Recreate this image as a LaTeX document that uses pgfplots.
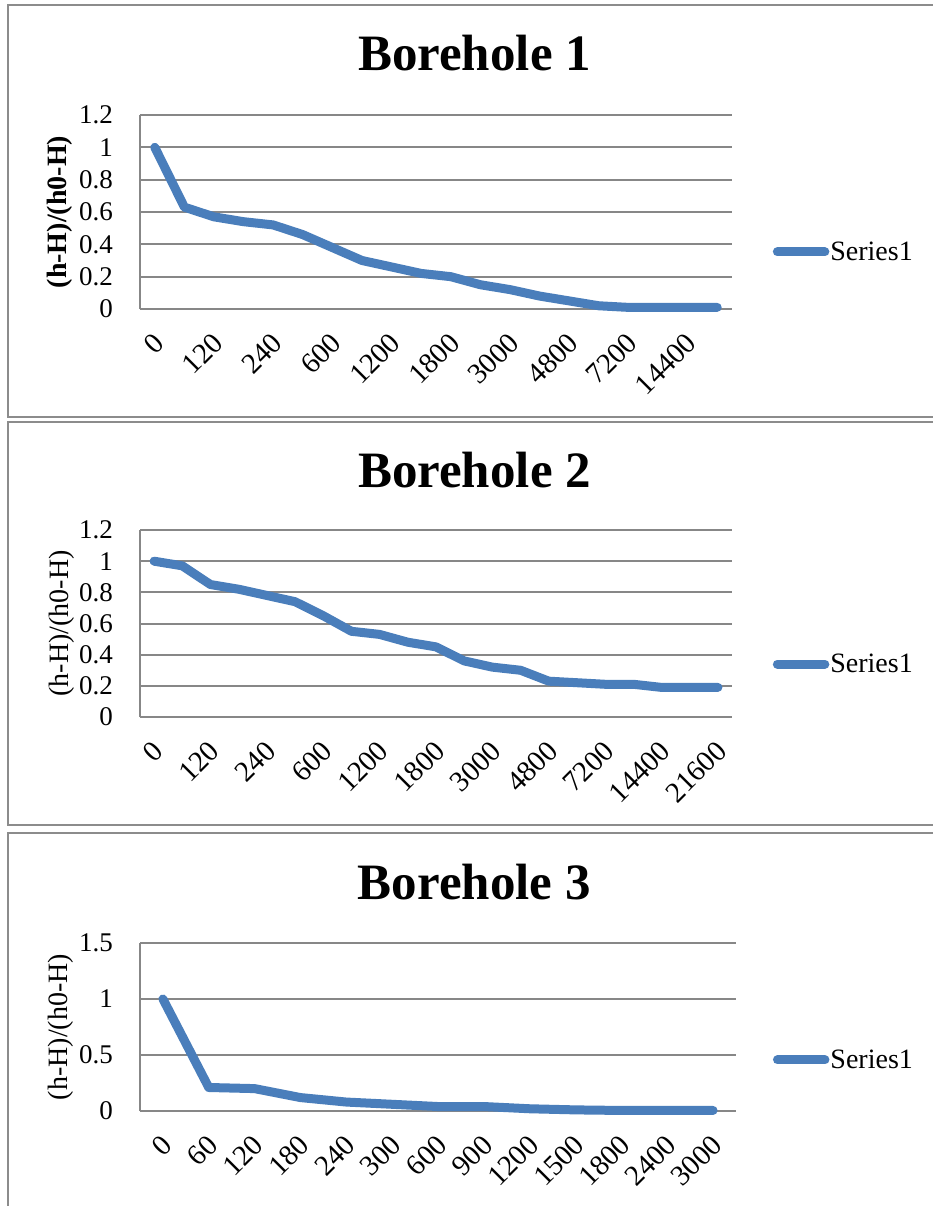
\documentclass[border=0pt]{standalone}
\usepackage{fontspec}
\setmainfont{Liberation Serif}
\usepackage{pgfplots}
\usepackage{pgfplotstable}
\pgfplotsset{compat=1.18}

\definecolor{seriesblue}{HTML}{4A7EBB}
\definecolor{gridgray}{HTML}{878787}
\definecolor{framegray}{HTML}{8C8C8C}
\newcommand\lblfont{\fontsize{27}{32}\selectfont}
\newcommand\xlblfont{\fontsize{29}{34}\selectfont}
\newcommand\axlblfont{\fontsize{28}{32}\selectfont}

% time (s) and normalised head (h-H)/(h0-H)
\pgfplotstableread{
t v
0 1.00
60 0.63
120 0.57
180 0.54
240 0.52
300 0.46
600 0.38
900 0.30
1200 0.26
1500 0.22
1800 0.20
2400 0.15
3000 0.12
3600 0.08
4800 0.05
6000 0.02
7200 0.01
10800 0.01
14400 0.01
18000 0.01
}\bhone

\pgfplotstableread{
t v
0 1.00
60 0.97
120 0.85
180 0.82
240 0.78
300 0.74
600 0.65
900 0.55
1200 0.53
1500 0.48
1800 0.45
2400 0.36
3000 0.32
3600 0.30
4800 0.23
6000 0.22
7200 0.21
10800 0.21
14400 0.19
18000 0.19
21600 0.19
}\bhtwo

\pgfplotstableread{
t v
0 1.00
60 0.21
120 0.20
180 0.12
240 0.08
300 0.06
600 0.04
900 0.04
1200 0.02
1500 0.01
1800 0.005
2400 0.005
3000 0.005
}\bhthree

\pgfplotsset{
  bhline/.style={seriesblue, line width=9pt, line cap=round,
    line join=round, mark=none},
  borehole/.style={
    scale only axis,
    anchor=south west,
    axis lines*=left,
    axis line style={gridgray, line width=2pt, -},
    ymajorgrids,
    grid style={gridgray, line width=2pt},
    major tick length=0pt,
    ymin=0,
    xmin=-0.5,
    yticklabel style={font=\lblfont, anchor=east, inner sep=0pt},
    yticklabel shift=27pt,
    xticklabel style={font=\xlblfont, xshift=4pt, rotate=45, anchor=east, inner sep=0pt},
    xticklabel shift=29pt,
    title style={font=\bfseries\fontsize{51}{58}\selectfont, anchor=base},
    legend style={draw=none, fill=none, inner sep=0pt, outer sep=0pt,
      font=\axlblfont, anchor=west, nodes={inner sep=1pt}},
    legend image code/.code={\draw[#1] (4.5pt,0pt) -- (52pt,0pt);},
    clip=false,
  }
}

\begin{document}
\begin{tikzpicture}
\useasboundingbox (0pt,0pt) rectangle (933pt,-1206pt);

% chart frames
\draw[framegray, line width=1.8pt] (8pt,-5pt) rectangle (950pt,-417pt);
\draw[framegray, line width=1.8pt] (8pt,-422pt) rectangle (950pt,-825pt);
\draw[framegray, line width=1.8pt] (8pt,-833pt) rectangle (950pt,-1230pt);

% Borehole 1
\begin{axis}[borehole,
  at={(140pt,-309pt)}, width=592pt, height=194pt,
  ymax=1.2, ytick={0,0.2,0.4,0.6,0.8,1,1.2},
  yticklabels={0,0.2,0.4,0.6,0.8,1,1.2},
  xmax=19.5, xtick={0,2,...,18},
  xticklabels={0,120,240,600,1200,1800,3000,4800,7200,14400},
  title={Borehole 1},
  title style={at={(axis description cs:0.565,1.201)}},
  ylabel={\bfseries (h-H)/(h0-H)},
  every axis y label/.style={at={(axis description cs:-0.135,0.5)},
    rotate=90, anchor=center, font=\axlblfont},
  legend style={at={(axis description cs:1.069,0.294)}},
]
\addplot[bhline] table[x expr=\coordindex, y=v] {\bhone};
\addlegendentry{Series1}
\end{axis}

% Borehole 2
\begin{axis}[borehole,
  at={(140pt,-717pt)}, width=592pt, height=187pt,
  ymax=1.2, ytick={0,0.2,0.4,0.6,0.8,1,1.2},
  yticklabels={0,0.2,0.4,0.6,0.8,1,1.2},
  xmax=20.5, xtick={0,2,...,20},
  xticklabels={0,120,240,600,1200,1800,3000,4800,7200,14400,21600},
  title={Borehole 2},
  title style={at={(axis description cs:0.565,1.193)}},
  ylabel={(h-H)/(h0-H)},
  every axis y label/.style={at={(axis description cs:-0.133,0.5)},
    rotate=90, anchor=center, font=\axlblfont},
  legend style={at={(axis description cs:1.069,0.283)}},
]
\addplot[bhline] table[x expr=\coordindex, y=v] {\bhtwo};
\addlegendentry{Series1}
\end{axis}

% Borehole 3
\begin{axis}[borehole,
  at={(140pt,-1111pt)}, width=596pt, height=168pt,
  ymax=1.5, ytick={0,0.5,1,1.5},
  yticklabels={0,0.5,1,1.5},
  xmax=12.5, xtick={0,1,...,12},
  xticklabels={0,60,120,180,240,300,600,900,1200,1500,1800,2400,3000},
  title={Borehole 3},
  title style={at={(axis description cs:0.561,1.226)}},
  ylabel={(h-H)/(h0-H)},
  every axis y label/.style={at={(axis description cs:-0.1325,0.5)},
    rotate=90, anchor=center, font=\axlblfont},
  legend style={at={(axis description cs:1.062,0.304)}},
]
\addplot[bhline] table[x expr=\coordindex, y=v] {\bhthree};
\addlegendentry{Series1}
\end{axis}
\end{tikzpicture}
\end{document}
